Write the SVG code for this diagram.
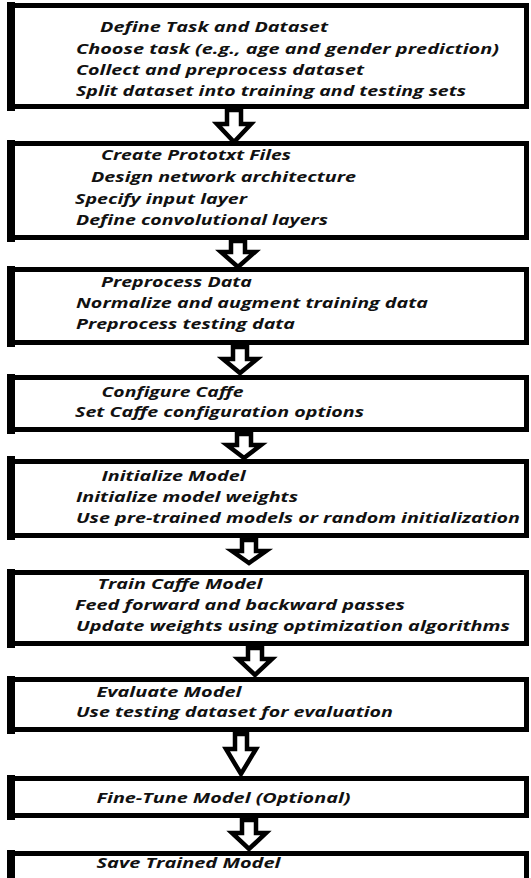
<svg xmlns="http://www.w3.org/2000/svg" width="531" height="878" viewBox="0 0 531 878">
  <style>
    .box { fill: none; stroke: #000; stroke-width: 5; }
    .lbar { fill: #000; }
    .arr { fill: #fff; stroke: #000; stroke-width: 4.5; stroke-linejoin: miter; }
    text { font-family: "Open Sans", "Liberation Sans", sans-serif; font-weight: 700; font-style: italic; font-size: 15px; fill: #111; }
  </style>
  <rect x="0" y="0" width="531" height="878" fill="#fff"/>

  <g id="node-define-task">
    <rect class="box" x="9.5" y="5.5" width="517" height="101"/>
    <rect class="lbar" x="7" y="2" width="8" height="109"/>
    <text x="100" y="32" textLength="228" lengthAdjust="spacingAndGlyphs">Define Task and Dataset</text>
    <text x="76" y="54" textLength="423" lengthAdjust="spacingAndGlyphs">Choose task (e.g., age and gender prediction)</text>
    <text x="76" y="75" textLength="288" lengthAdjust="spacingAndGlyphs">Collect and preprocess dataset</text>
    <text x="76" y="95.5" textLength="390" lengthAdjust="spacingAndGlyphs">Split dataset into training and testing sets</text>
  </g>

  <g id="node-create-prototxt">
    <rect class="box" x="9.5" y="143.5" width="517" height="94"/>
    <rect class="lbar" x="7" y="140" width="8" height="102"/>
    <text x="101" y="160" textLength="190" lengthAdjust="spacingAndGlyphs">Create Prototxt Files</text>
    <text x="91" y="182" textLength="265" lengthAdjust="spacingAndGlyphs">Design network architecture</text>
    <text x="75" y="204" textLength="172" lengthAdjust="spacingAndGlyphs">Specify input layer</text>
    <text x="76" y="225" textLength="252" lengthAdjust="spacingAndGlyphs">Define convolutional layers</text>
  </g>

  <g id="node-preprocess-data">
    <rect class="box" x="9.5" y="269.5" width="517" height="73"/>
    <rect class="lbar" x="7" y="266" width="8" height="81"/>
    <text x="101" y="287" textLength="151" lengthAdjust="spacingAndGlyphs">Preprocess Data</text>
    <text x="76" y="307.5" textLength="352" lengthAdjust="spacingAndGlyphs">Normalize and augment training data</text>
    <text x="76" y="329" textLength="219" lengthAdjust="spacingAndGlyphs">Preprocess testing data</text>
  </g>

  <g id="node-configure-caffe">
    <rect class="box" x="9.5" y="377.5" width="517" height="52"/>
    <rect class="lbar" x="7" y="374" width="8" height="60"/>
    <text x="101.5" y="396.5" textLength="142" lengthAdjust="spacingAndGlyphs">Configure Caffe</text>
    <text x="75" y="417" textLength="289" lengthAdjust="spacingAndGlyphs">Set Caffe configuration options</text>
  </g>

  <g id="node-initialize-model">
    <rect class="box" x="9.5" y="461.5" width="517" height="74"/>
    <rect class="lbar" x="7" y="456" width="8" height="84"/>
    <text x="101.5" y="481" textLength="144" lengthAdjust="spacingAndGlyphs">Initialize Model</text>
    <text x="76" y="502" textLength="222" lengthAdjust="spacingAndGlyphs">Initialize model weights</text>
    <text x="76" y="523" textLength="444" lengthAdjust="spacingAndGlyphs">Use pre-trained models or random initialization</text>
  </g>

  <g id="node-train-model">
    <rect class="box" x="9.5" y="572.5" width="517" height="71"/>
    <rect class="lbar" x="7" y="569" width="8" height="79"/>
    <text x="97.5" y="589" textLength="165" lengthAdjust="spacingAndGlyphs">Train Caffe Model</text>
    <text x="75" y="610" textLength="330" lengthAdjust="spacingAndGlyphs">Feed forward and backward passes</text>
    <text x="76" y="631" textLength="434" lengthAdjust="spacingAndGlyphs">Update weights using optimization algorithms</text>
  </g>

  <g id="node-evaluate-model">
    <rect class="box" x="9.5" y="679.5" width="517" height="50"/>
    <rect class="lbar" x="7" y="676" width="8" height="58"/>
    <text x="96.5" y="696.5" textLength="145" lengthAdjust="spacingAndGlyphs">Evaluate Model</text>
    <text x="76" y="717" textLength="317" lengthAdjust="spacingAndGlyphs">Use testing dataset for evaluation</text>
  </g>

  <g id="node-fine-tune">
    <rect class="box" x="9.5" y="778.5" width="517" height="37"/>
    <rect class="lbar" x="7" y="775" width="8" height="45"/>
    <text x="96.5" y="803" textLength="254" lengthAdjust="spacingAndGlyphs">Fine-Tune Model (Optional)</text>
  </g>

  <g id="node-save-model">
    <rect class="box" x="9.5" y="853.5" width="517" height="40"/>
    <rect class="lbar" x="7" y="850" width="8" height="40"/>
    <text x="96.5" y="868" textLength="184" lengthAdjust="spacingAndGlyphs">Save Trained Model</text>
  </g>

  <g id="connectors">
    <polygon class="arr" points="227,110 241,110 241,124 251,124 234,142 217,124 227,124"/>
    <polygon class="arr" points="231,241 245,241 245,252 255,252 238,267 221,252 231,252"/>
    <polygon class="arr" points="233,347 247,347 247,359 257,359 240,373 223,359 233,359"/>
    <polygon class="arr" points="237,434 251,434 251,445 261,445 244,458 227,445 237,445"/>
    <polygon class="arr" points="242,540 256,540 256,551 266,551 249,563 232,551 242,551"/>
    <polygon class="arr" points="248,648 262,648 262,659 272,659 255,675 238,659 248,659"/>
    <polygon class="arr" points="235,734 247,734 247,749 256,749 241,774 226,749 235,749"/>
    <polygon class="arr" points="242,820 256,820 256,833 266,833 249,849 232,833 242,833"/>
  </g>
</svg>
